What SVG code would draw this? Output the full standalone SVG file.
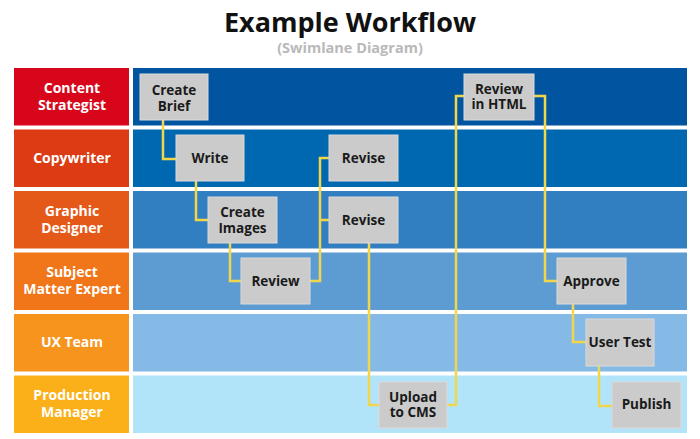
<svg xmlns="http://www.w3.org/2000/svg" width="700" height="439" viewBox="0 0 700 439">
<style>
.title{font-family:"Open Sans","Noto Sans",sans-serif;font-weight:700;font-size:27px;fill:#111;text-anchor:middle}
.sub{font-family:"Open Sans","Noto Sans",sans-serif;font-weight:700;font-size:14.5px;fill:#b9b9b9;text-anchor:middle}
.lbl{font-family:"Open Sans","Noto Sans",sans-serif;font-weight:700;font-size:14px;fill:#fff;text-anchor:middle}
.box{fill:#cbcbcb;stroke:#dadada;stroke-width:1}
.bt{font-family:"Open Sans","Noto Sans",sans-serif;font-weight:700;font-size:13.5px;fill:#1a1a1a;text-anchor:middle}
.con{fill:none;stroke:#f1d54b;stroke-width:2.5}
</style>
<rect width="700" height="439" fill="#fff"/>
<text class="title" x="350" y="32">Example Workflow</text>
<text class="sub" x="350" y="53">(Swimlane Diagram)</text>

<g id="lanes">
<rect x="133" y="68" width="554" height="57.5" fill="#0054a0"/>
<rect x="133" y="129.5" width="554" height="57.5" fill="#0067b1"/>
<rect x="133" y="191" width="554" height="57.5" fill="#317fc0"/>
<rect x="133" y="252.5" width="554" height="57.5" fill="#5d9cd3"/>
<rect x="133" y="314" width="554" height="57.5" fill="#84bae5"/>
<rect x="133" y="375.5" width="554" height="57.5" fill="#b1e3f9"/>
</g>

<g id="lane-content-strategist">
<rect x="14" y="68" width="115" height="57.5" fill="#d7061b"/>
<text class="lbl" x="72" y="93">Content<tspan x="72" dy="17">Strategist</tspan></text>
</g>
<g id="lane-copywriter">
<rect x="14" y="129.5" width="115" height="57.5" fill="#dc3b13"/>
<text class="lbl" x="72" y="163">Copywriter</text>
</g>
<g id="lane-graphic-designer">
<rect x="14" y="191" width="115" height="57.5" fill="#e55918"/>
<text class="lbl" x="72" y="216">Graphic<tspan x="72" dy="17">Designer</tspan></text>
</g>
<g id="lane-sme">
<rect x="14" y="252.5" width="115" height="57.5" fill="#f07619"/>
<text class="lbl" x="72" y="277">Subject<tspan x="72" dy="17">Matter Expert</tspan></text>
</g>
<g id="lane-ux-team">
<rect x="14" y="314" width="115" height="57.5" fill="#f7941d"/>
<text class="lbl" x="72" y="347">UX Team</text>
</g>
<g id="lane-production-manager">
<rect x="14" y="375.5" width="115" height="57.5" fill="#fbb019"/>
<text class="lbl" x="72" y="400">Production<tspan x="72" dy="17">Manager</tspan></text>
</g>

<g id="connectors">
<polyline class="con" points="163,120 163,159 176,159"/>
<polyline class="con" points="196,181 196,220 208,220"/>
<polyline class="con" points="230,243 230,281 241,281"/>
<polyline class="con" points="310,281 320,281 320,158 329,158"/>
<polyline class="con" points="320,220 329,220"/>
<polyline class="con" points="369,243 369,405 379,405"/>
<polyline class="con" points="447,405 456,405 456,96 464,96"/>
<polyline class="con" points="534,96 545,96 545,281 557,281"/>
<polyline class="con" points="573,304 573,342 586,342"/>
<polyline class="con" points="599,366 599,406 612,406"/>
</g>

<g id="create-brief">
<rect class="box" x="140" y="74" width="68" height="46"/>
<text class="bt" x="174" y="95">Create<tspan x="174" dy="16">Brief</tspan></text>
</g>
<g id="write">
<rect class="box" x="176" y="135" width="68" height="46"/>
<text class="bt" x="210" y="163">Write</text>
</g>
<g id="create-images">
<rect class="box" x="208" y="197" width="69" height="46"/>
<text class="bt" x="242.5" y="217">Create<tspan x="242.5" dy="16">Images</tspan></text>
</g>
<g id="review">
<rect class="box" x="241" y="258" width="69" height="46"/>
<text class="bt" x="275.5" y="286">Review</text>
</g>
<g id="revise-copy">
<rect class="box" x="329" y="135" width="69" height="46"/>
<text class="bt" x="363.5" y="163">Revise</text>
</g>
<g id="revise-graphic">
<rect class="box" x="329" y="197" width="69" height="46"/>
<text class="bt" x="363.5" y="225">Revise</text>
</g>
<g id="review-html">
<rect class="box" x="464" y="74" width="70" height="46"/>
<text class="bt" x="499" y="94">Review<tspan x="499" dy="15">in HTML</tspan></text>
</g>
<g id="approve">
<rect class="box" x="557" y="258" width="69" height="46"/>
<text class="bt" x="591.5" y="286">Approve</text>
</g>
<g id="user-test">
<rect class="box" x="586" y="319" width="68" height="47"/>
<text class="bt" x="620" y="347">User Test</text>
</g>
<g id="upload-cms">
<rect class="box" x="379" y="382" width="68" height="46"/>
<text class="bt" x="413" y="402">Upload<tspan x="413" dy="15">to CMS</tspan></text>
</g>
<g id="publish">
<rect class="box" x="612" y="382" width="69" height="46"/>
<text class="bt" x="646.5" y="409">Publish</text>
</g>
</svg>
